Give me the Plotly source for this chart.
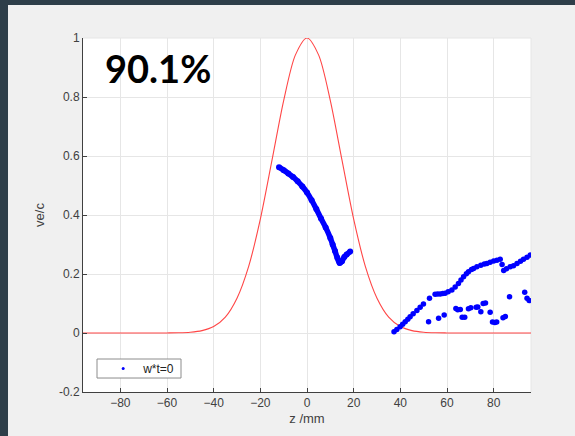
import plotly.graph_objects as go

# Red reference profile
z_ref = [-96, -90, -80, -70, -65, -60, -55, -50, -45, -40, -35, -30, -25, -20, -15, -10, -5, 0,
         5, 10, 15, 20, 25, 30, 35, 40, 45, 50, 55, 60, 65, 70, 80, 90, 96]
v_ref = [0, 0, 0, 0, 0.0, 0.0002, 0.0007, 0.0026, 0.0081, 0.022, 0.054, 0.118, 0.226, 0.386, 0.586, 0.788, 0.942, 1.0,
         0.942, 0.788, 0.586, 0.386, 0.226, 0.118, 0.054, 0.022, 0.0081, 0.0026, 0.0007, 0.0002, 0.0, 0, 0, 0, 0]

# Blue electron velocity points, w*t=0
z_a = [-12, -10, -8, -6, -4, -2, 0, 2, 4, 6, 8, 10, 11, 12, 13, 14, 15, 16, 17, 18.5]
v_a = [0.562, 0.552, 0.541, 0.529, 0.514, 0.497, 0.476, 0.450, 0.420, 0.388, 0.358, 0.322,
       0.300, 0.278, 0.255, 0.237, 0.243, 0.258, 0.266, 0.276]

z_b = [37.3, 38.5, 39.9, 41, 42.1, 43.2, 44.2, 45.5, 47.1, 48.5, 49.9, 52.5, 54.9, 56, 57.1, 58.2,
       59.2, 60.5, 62.1, 63.5, 64.9, 66, 67.1, 68.3, 69.2, 70.5, 71.4, 72.8, 74.5, 76, 77.1, 78.5,
       80, 81.4, 82.8, 83.6, 84.3, 85.5, 87.1, 88.5, 90, 91.5, 92.8, 94.3, 95.7]
v_b = [0.004, 0.012, 0.021, 0.030, 0.038, 0.047, 0.055, 0.065, 0.076, 0.087, 0.098, 0.118, 0.131,
       0.132, 0.132, 0.134, 0.135, 0.140, 0.146, 0.156, 0.168, 0.180, 0.191, 0.201, 0.208, 0.215,
       0.219, 0.225, 0.230, 0.234, 0.236, 0.240, 0.244, 0.247, 0.250, 0.232, 0.212, 0.218, 0.225,
       0.228, 0.236, 0.243, 0.250, 0.257, 0.264]

z_c = [52.1, 56.4, 58.8, 63.8, 64.6, 65.7, 66.5, 67.6, 69.2, 70.2, 72.5, 73.2, 74.5, 75.5, 76.5,
       78.5, 79.5, 80.5, 81.3, 84, 85, 86.8, 93.3, 94.3, 95.2]
v_c = [0.038, 0.050, 0.061, 0.083, 0.079, 0.080, 0.053, 0.053, 0.082, 0.086, 0.087, 0.088, 0.072,
       0.100, 0.102, 0.070, 0.037, 0.036, 0.037, 0.052, 0.056, 0.123, 0.138, 0.118, 0.110]

x_ticks = [-80, -60, -40, -20, 0, 20, 40, 60, 80]
y_ticks = [-0.2, 0, 0.2, 0.4, 0.6, 0.8, 1]
y_tick_text = ["-0.2", "0", "0.2", "0.4", "0.6", "0.8", "1"]

BLUE = "rgb(0,0,255)"
DARK = "#2e3e49"
GRAY = "#f0f0f0"

fig = go.Figure()
fig.add_trace(go.Scatter(x=z_ref, y=v_ref, mode="lines",
                         line=dict(color="rgb(255,70,70)", width=1.1, shape="spline", smoothing=0.8),
                         showlegend=False, hoverinfo="skip"))
fig.add_trace(go.Scatter(x=z_a, y=v_a, mode="lines+markers", line=dict(color=BLUE, width=5.5, shape="spline"),
                         marker=dict(color=BLUE, size=6), showlegend=False))
fig.add_trace(go.Scatter(x=z_b, y=v_b, mode="markers", marker=dict(color=BLUE, size=5.5), showlegend=False))
fig.add_trace(go.Scatter(x=z_c, y=v_c, mode="markers", marker=dict(color=BLUE, size=5.5), showlegend=False))
# legend entry (small dot, as in the original)
fig.add_trace(go.Scatter(x=[None], y=[None], mode="markers", marker=dict(color=BLUE, size=3), name="w*t=0"))

axis_font = dict(family="Liberation Sans, Arial, sans-serif", size=12, color="#404040")

fig.update_layout(
    width=575, height=436,
    margin=dict(l=83, r=44, t=38, b=44),
    paper_bgcolor=GRAY,
    plot_bgcolor="white",
    font=axis_font,
    showlegend=True,
    xaxis=dict(range=[-96, 96], tickvals=x_ticks, ticks="inside", ticklen=4, tickcolor="#404040",
               showline=True, linecolor="#404040", linewidth=1, showgrid=True, gridcolor="#e6e6e6",
               zeroline=False, title=dict(text="z /mm", font=dict(size=13), standoff=4)),
    yaxis=dict(range=[-0.2, 1], tickvals=y_ticks, ticktext=y_tick_text, ticks="inside", ticklen=4,
               tickcolor="#404040", showline=True, linecolor="#404040", linewidth=1, showgrid=True,
               gridcolor="#e6e6e6", zeroline=False, title=dict(text="ve/c", font=dict(size=13), standoff=11)),
    legend=dict(x=0.045, y=0.0663, xanchor="left", yanchor="middle", bgcolor="rgba(0,0,0,0)",
                borderwidth=0, font=dict(size=12, color="#222"), itemsizing="trace", itemwidth=30),
    shapes=[
        dict(type="line", xref="paper", yref="paper", x0=0, x1=1, y0=1, y1=1,
             line=dict(color="#e6e6e6", width=1), layer="below"),
        dict(type="line", xref="paper", yref="paper", x0=1, x1=1, y0=0, y1=1,
             line=dict(color="#e6e6e6", width=1), layer="below"),
        # slide frame (dark strips on the left and top)
        dict(type="rect", xref="paper", yref="paper", x0=-0.2, x1=-0.1674, y0=-0.2, y1=1.2,
             fillcolor=DARK, line=dict(width=0), layer="below"),
        dict(type="rect", xref="paper", yref="paper", x0=-0.2, x1=1.2, y0=1.0932, y1=1.2,
             fillcolor=DARK, line=dict(width=0), layer="below"),
        # legend box
        dict(type="rect", xref="paper", yref="paper", x0=0.03125, x1=0.21875, y0=0.0395, y1=0.0932,
             fillcolor="white", line=dict(color="#8c8c8c", width=1), layer="above"),
    ],
    annotations=[
        dict(text="<b>90.1%</b>", xref="paper", yref="paper", x=0.045, y=0.915, xanchor="left", yanchor="middle",
             showarrow=False, font=dict(family="Lato, Noto Sans, sans-serif", size=38, color="black")),
    ],
)

fig.write_html("out.html", config={"displayModeBar": False},
               post_script="document.body.style.margin='0px';")
